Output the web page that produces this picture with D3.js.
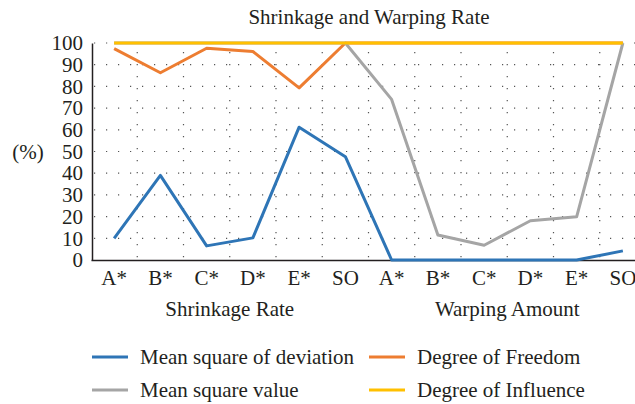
<!DOCTYPE html>
<html>
  <head>
    <meta charset="utf-8">
    <title>Shrinkage and Warping Rate</title>
    <script src="https://d3js.org/d3.v7.min.js"></script>
    <style>
      body{ margin: 0; background: #fff; }
      text{ font-family: "Liberation Serif", "DejaVu Serif", serif; fill: #231f20; }
    </style>
  </head>
  <body>
    <svg width="635" height="404"></svg>
    <script>
    // data
    var groups = ["Shrinkage Rate", "Warping Amount"];
    var levels = ["A*", "B*", "C*", "D*", "E*", "SO"];
    var yTicks = [0, 10, 20, 30, 40, 50, 60, 70, 80, 90, 100];

    var seriesNames = ["Mean square of deviation", "Degree of Freedom", "Mean square value", "Degree of Influence"];
    var seriesColors = ["#2e75b6", "#ed7d31", "#a5a5a5", "#ffc000"];
    var meanSquareDeviation = [10, 39, 6.5, 10.2, 61.2, 47.6, 0, 0, 0, 0, 0, 4.2];
    var degreeFreedom = [97.4, 86.3, 97.6, 96.1, 79.3, 100, 100, 100, 100, 100, 100, 100];
    var meanSquareValue = [100, 100, 100, 100, 100, 100, 74, 11.5, 6.8, 18.1, 19.9, 100];
    var degreeInfluence = [100, 100, 100, 100, 100, 100, 100, 100, 100, 100, 100, 100];
    var allSeries = [meanSquareDeviation, degreeFreedom, meanSquareValue, degreeInfluence];

    var svg = d3.select("svg");
    var plotLeft = 91, plotRight = 646, plotTop = 43, plotBottom = 260;
    var fs = "21px";

    var cats = [];
    groups.forEach(function(g, gi){
      levels.forEach(function(l, li){ cats.push({group: gi, label: l, key: gi + "-" + li}); });
    });

    var x = d3.scaleBand().domain(cats.map(function(c){ return c.key; })).range([plotLeft, plotRight]).padding(0);
    var y = d3.scaleLinear().domain([0, 100]).range([plotBottom, plotTop]);
    var cx = function(i){ return x(cats[i].key) + x.bandwidth() / 2; };

    // dotted grid
    var grid = svg.append("g").attr("stroke", "#555").attr("stroke-width", 1.2);
    grid.selectAll("line.h").data(yTicks.slice(1)).enter().append("line")
      .attr("x1", plotLeft + 1).attr("x2", plotRight)
      .attr("y1", function(d){ return y(d); }).attr("y2", function(d){ return y(d); })
      .attr("stroke-dasharray", "1.2,10.8").attr("stroke-dashoffset", -14);
    grid.selectAll("line.v").data(cats.slice(1)).enter().append("line")
      .attr("x1", function(d){ return x(d.key); }).attr("x2", function(d){ return x(d.key); })
      .attr("y1", y(100) + 4).attr("y2", plotBottom)
      .attr("stroke-dasharray", "1.2,10.8").attr("stroke-dashoffset", -5);

    // axes
    var yAxis = svg.append("g").attr("transform", "translate(" + (plotLeft + 1) + ",0)")
      .call(d3.axisLeft(y).tickValues(yTicks).tickSize(0).tickPadding(9));
    yAxis.select(".domain").attr("stroke", "#231f20").attr("stroke-width", 1.5);
    yAxis.selectAll("text").style("font-size", fs).attr("fill", "#231f20");

    var xAxis = svg.append("g").attr("transform", "translate(0," + plotBottom + ")")
      .call(d3.axisBottom(x).tickSize(0).tickPadding(10).tickFormat(function(d, i){ return cats[i].label; }));
    xAxis.select(".domain").attr("stroke", "#231f20").attr("stroke-width", 1.5);
    xAxis.selectAll("text").style("font-size", fs).attr("fill", "#231f20");

    svg.selectAll("text.group").data(groups).enter().append("text")
      .attr("x", function(d, i){ return (x(cats[i * 6].key) + x(cats[i * 6 + 5].key) + x.bandwidth()) / 2; })
      .attr("y", 316).attr("text-anchor", "middle").style("font-size", fs)
      .text(function(d){ return d; });

    svg.append("text").attr("x", 28).attr("y", 159).attr("text-anchor", "middle")
      .style("font-size", fs).text("(%)");

    svg.append("text").attr("x", 369).attr("y", 24).attr("text-anchor", "middle")
      .style("font-size", fs).text("Shrinkage and Warping Rate");

    // lines
    var line = d3.line().x(function(d, i){ return cx(i); }).y(function(d){ return y(d); });
    svg.append("g").attr("fill", "none").attr("stroke-width", 3).attr("stroke-linejoin", "round")
      .selectAll("path").data(allSeries).enter().append("path")
      .attr("stroke", function(d, i){ return seriesColors[i]; })
      .attr("d", line);

    // legend
    var legend = svg.append("g").selectAll("g").data(seriesNames).enter().append("g")
      .attr("transform", function(d, i){ return "translate(" + (i % 2 ? 369 : 92) + "," + (i < 2 ? 357 : 390) + ")"; });
    legend.append("line").attr("x1", 0).attr("x2", 36)
      .attr("stroke", function(d, i){ return seriesColors[i]; }).attr("stroke-width", 3);
    legend.append("text").attr("x", 48).attr("y", 7).style("font-size", fs)
      .text(function(d){ return d; });
    </script>
  </body>
</html>
